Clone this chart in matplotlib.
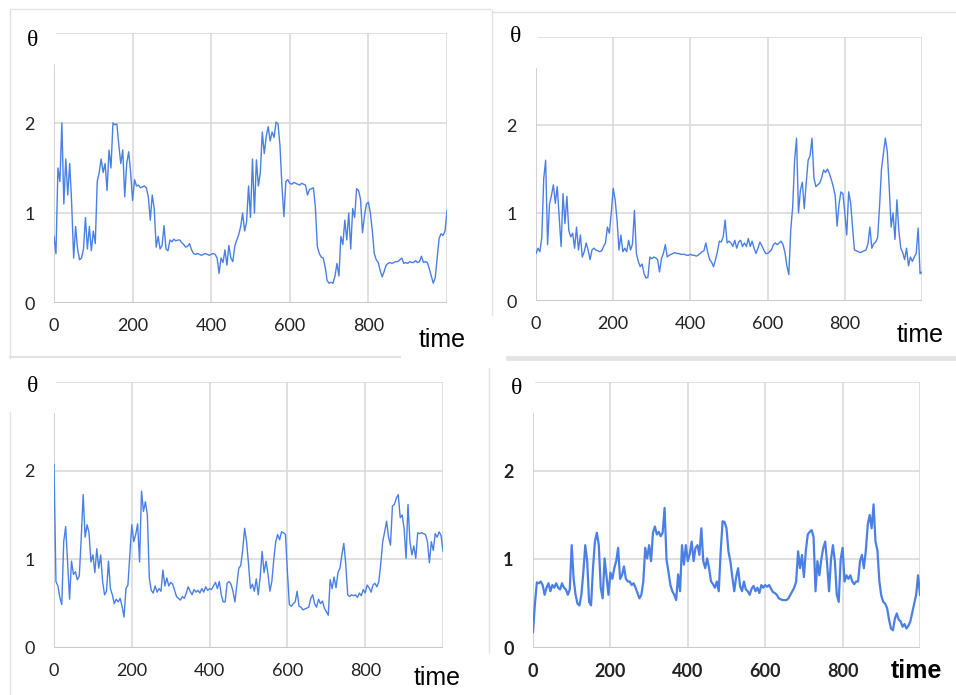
"""Four theta(t) traces laid out as a 2x2 panel figure."""
import numpy as np
import matplotlib
matplotlib.use("Agg")
import matplotlib.pyplot as plt
from matplotlib.lines import Line2D

W, H = 956, 695

# sample times (every 5 steps)
time = np.arange(0, 1001, 5)

theta_a = [
    0.74, 0.55, 1.5, 1.35, 2.0, 1.1, 1.6, 1.2, 1.55, 1.1,
    0.5, 0.85, 0.6, 0.48, 0.5, 0.6, 0.95, 0.6, 0.85, 0.58,
    0.8, 0.66, 1.35, 1.45, 1.6, 1.45, 1.55, 1.25, 1.7, 1.5,
    2.0, 1.98, 1.99, 1.75, 1.55, 1.7, 1.18, 1.55, 1.68, 1.45,
    1.14, 1.37, 1.3, 1.31, 1.28, 1.29, 1.3, 1.28, 1.18, 0.92,
    1.2, 1.05, 0.62, 0.74, 0.6, 0.64, 0.86, 0.6, 0.58, 0.7,
    0.68, 0.71, 0.69, 0.7, 0.7, 0.67, 0.65, 0.62, 0.63, 0.66,
    0.59, 0.55, 0.54, 0.55, 0.54, 0.53, 0.54, 0.55, 0.54, 0.53,
    0.54, 0.55, 0.54, 0.5, 0.33, 0.5, 0.45, 0.59, 0.42, 0.64,
    0.5, 0.46, 0.63, 0.7, 0.76, 0.85, 1.0, 0.8, 0.9, 1.3,
    0.95, 1.6, 1.0, 1.59, 1.3, 1.45, 1.9, 1.66, 1.85, 1.96,
    1.8, 1.9, 1.84, 2.01, 1.99, 1.75, 1.3, 0.96, 1.35, 1.37,
    1.33, 1.32, 1.34, 1.33, 1.32, 1.31, 1.33, 1.32, 1.31, 1.2,
    1.26, 1.27, 1.28, 1.07, 0.63, 0.55, 0.51, 0.5, 0.4, 0.25,
    0.22, 0.23, 0.22, 0.3, 0.44, 0.3, 0.74, 0.65, 0.92, 0.7,
    1.0, 0.6, 1.05, 0.95, 1.27, 1.25, 1.15, 0.78, 0.97, 1.1,
    1.12, 1.0, 0.8, 0.55, 0.48, 0.45, 0.36, 0.29, 0.35, 0.42,
    0.44, 0.45, 0.44, 0.45, 0.46, 0.46, 0.48, 0.5, 0.44, 0.45,
    0.44, 0.46, 0.45, 0.45, 0.47, 0.45, 0.46, 0.52, 0.45, 0.46,
    0.45, 0.38, 0.3, 0.22, 0.28, 0.5, 0.72, 0.77, 0.75, 0.8,
    1.03,
]

theta_b = [
    0.54, 0.6, 0.56, 0.72, 1.39, 1.6, 0.64, 1.1, 1.2, 1.32,
    1.11, 1.3, 0.96, 0.62, 1.22, 0.88, 1.19, 0.8, 0.73, 0.77,
    0.6, 0.84, 0.58, 0.75, 0.5, 0.56, 0.66, 0.58, 0.47, 0.58,
    0.6, 0.58, 0.57, 0.56, 0.57, 0.62, 0.66, 0.84, 0.77, 1.0,
    1.28, 1.15, 0.92, 0.58, 0.75, 0.56, 0.6, 0.56, 0.69, 0.58,
    0.65, 1.03, 0.54, 0.45, 0.39, 0.42, 0.31, 0.26, 0.27, 0.5,
    0.48, 0.5, 0.49, 0.47, 0.33, 0.48, 0.54, 0.64, 0.5, 0.52,
    0.53, 0.54, 0.55, 0.54, 0.54, 0.53, 0.53, 0.53, 0.52, 0.52,
    0.53, 0.52, 0.52, 0.51, 0.52, 0.54, 0.56, 0.57, 0.66, 0.55,
    0.47, 0.44, 0.39, 0.47, 0.56, 0.68, 0.67, 0.73, 0.92, 0.66,
    0.68, 0.66, 0.62, 0.69, 0.6, 0.67, 0.69, 0.62, 0.66, 0.62,
    0.71, 0.62, 0.68, 0.6, 0.54, 0.6, 0.67, 0.63, 0.58, 0.54,
    0.54, 0.56, 0.58, 0.64, 0.66, 0.64, 0.66, 0.68, 0.64, 0.55,
    0.4, 0.3, 0.81, 1.07, 1.6, 1.85, 1.0, 1.26, 1.35, 1.05,
    1.34, 1.6, 1.65, 1.85, 1.4, 1.3, 1.32, 1.34, 1.4, 1.49,
    1.46, 1.5, 1.45, 1.38, 1.3, 1.2, 0.85, 1.1, 1.24, 1.22,
    1.0, 0.75, 1.24, 1.12, 0.84, 0.58, 0.57, 0.56, 0.55, 0.56,
    0.57, 0.58, 0.65, 0.84, 0.6, 0.65, 0.67, 0.72, 1.07, 1.5,
    1.68, 1.85, 1.7, 1.3, 0.84, 1.0, 0.7, 1.15, 0.8, 0.6,
    0.55, 0.47, 0.6, 0.4, 0.5, 0.45, 0.5, 0.54, 0.83, 0.31,
    0.33,
]

theta_c = [
    2.07, 0.75, 0.7, 0.57, 0.49, 1.2, 1.37, 0.95, 0.55, 0.98,
    0.83, 0.86, 0.77, 0.81, 1.24, 1.73, 1.25, 1.39, 1.3, 0.97,
    1.05, 0.85, 1.12, 0.9, 1.05, 0.75, 0.6, 0.64, 0.98, 0.67,
    0.6, 0.5, 0.55, 0.52, 0.56, 0.47, 0.35, 0.67, 0.71, 1.05,
    1.39, 1.2, 1.28, 1.4, 0.97, 1.77, 1.54, 1.65, 1.5, 0.79,
    0.65, 0.62, 0.7, 0.63, 0.67, 0.64, 0.88, 0.7, 0.79, 0.7,
    0.74, 0.72, 0.65, 0.58, 0.56, 0.54, 0.58, 0.56, 0.62, 0.69,
    0.64, 0.6, 0.66, 0.63, 0.65, 0.62, 0.67, 0.63, 0.69, 0.65,
    0.67, 0.66, 0.7, 0.74, 0.67, 0.75, 0.6, 0.52, 0.52, 0.73,
    0.75, 0.72, 0.64, 0.52, 0.71, 0.9, 0.93, 1.1, 1.35, 1.2,
    0.95, 0.67, 0.72, 0.64, 0.78, 0.6, 0.8, 1.09, 0.85, 0.98,
    0.84, 0.64, 0.75, 1.0, 1.2, 1.28, 1.22, 1.31, 1.3, 1.28,
    0.86, 0.49, 0.47, 0.5, 0.52, 0.64, 0.47, 0.46, 0.43, 0.44,
    0.45, 0.46, 0.56, 0.6, 0.5, 0.46, 0.55, 0.5, 0.53, 0.45,
    0.41, 0.37, 0.77, 0.67, 0.8, 0.68, 0.85, 0.9, 1.05, 1.18,
    0.95, 0.6, 0.58, 0.6, 0.59, 0.6, 0.57, 0.62, 0.59, 0.66,
    0.62, 0.71, 0.68, 0.63, 0.71, 0.73, 0.69, 0.75, 0.95, 1.2,
    1.31, 1.43, 1.25, 1.16, 1.6, 1.62, 1.69, 1.73, 1.47, 1.5,
    1.35, 1.01, 1.62, 1.2, 1.05, 1.15, 1.01, 1.3, 1.29, 1.3,
    1.29, 1.28, 1.2, 0.96, 1.2, 1.1, 1.29, 1.25, 1.31, 1.27,
    1.09,
]

theta_d = [
    0.18, 0.5, 0.74, 0.73, 0.75, 0.71, 0.6, 0.68, 0.73, 0.64,
    0.71, 0.68, 0.73, 0.68, 0.66, 0.73, 0.68, 0.66, 0.6, 0.66,
    1.16, 0.78, 0.6, 0.5, 0.48, 0.6, 0.85, 1.16, 0.98, 0.52,
    0.48, 0.9, 1.2, 1.3, 1.16, 0.68, 0.56, 1.01, 0.8, 0.6,
    0.85, 0.78, 0.9, 0.98, 1.13, 0.78, 0.82, 0.92, 0.78, 0.75,
    0.75, 0.71, 0.73, 0.68, 0.62, 0.56, 0.6, 0.75, 1.13, 1.01,
    1.16, 0.98, 1.3, 1.37, 1.28, 1.31, 1.26, 1.3, 1.58, 1.0,
    0.86, 0.71, 0.64, 0.6, 0.54, 0.83, 0.64, 1.16, 0.94, 1.16,
    0.98, 1.06, 1.2, 0.98, 1.13, 1.16, 1.05, 1.35, 0.98, 0.9,
    1.01, 0.9, 0.75, 0.72, 0.68, 0.75, 0.64, 1.09, 1.43, 1.42,
    1.35, 1.09, 0.98, 0.8, 0.64, 0.8, 0.9, 0.7, 0.64, 0.75,
    0.66, 0.64, 0.6, 0.67, 0.7, 0.64, 0.68, 0.62, 0.71, 0.68,
    0.71, 0.69, 0.71, 0.67, 0.63, 0.62, 0.6, 0.56, 0.55, 0.54,
    0.54, 0.54, 0.56, 0.6, 0.64, 0.68, 0.75, 1.09, 0.9, 1.05,
    0.8, 1.1, 1.28, 1.31, 1.33, 1.25, 0.64, 0.98, 0.82, 1.0,
    1.13, 1.2, 0.95, 0.64, 1.0, 1.16, 0.98, 0.6, 0.52, 1.0,
    1.13, 0.75, 0.82, 0.78, 0.82, 0.75, 0.72, 0.75, 0.75, 0.98,
    1.05, 0.9, 1.1, 1.39, 1.5, 1.35, 1.62, 1.2, 1.1, 0.75,
    0.59, 0.52, 0.5, 0.45, 0.32, 0.22, 0.2, 0.33, 0.39, 0.32,
    0.3, 0.24, 0.27, 0.22, 0.25, 0.3, 0.4, 0.5, 0.6, 0.82,
    0.6,
]

x_ticks = [0, 200, 400, 600, 800]
y_ticks = [0, 1, 2]

LINE = "#4a7fe6"
GRID = "#dadada"
AXIS = "#cacaca"

# (series, axes box in pixels [left, top, right, bottom], theta xy, time xy, bold, lw)
panels = [
    (theta_a, (54, 33, 447, 303), (33, 40), (442, 340), False, 1.0),
    (theta_b, (536, 37, 922, 301), (516, 37), (920, 335), False, 1.0),
    (theta_c, (54, 382, 443, 648), (33, 387), (437, 678), False, 1.0),
    (theta_d, (533, 382, 920, 648), (517, 388), (916, 671), True, 1.6),
]


def fx(px):
    return px / W


def fy(py):
    return 1 - py / H


fig = plt.figure(figsize=(W / 100, H / 100), dpi=100)

for series, (l, t, r, b), th_xy, time_xy, bold, lw in panels:
    ax = fig.add_axes([fx(l), fy(b), (r - l) / W, (b - t) / H])
    ax.set_xlim(0, 1000)
    ax.set_ylim(0, 3)
    for s in ax.spines.values():
        s.set_visible(False)

    # hand-drawn grid: no full-height line at x=0, short left axis instead
    for xv in [200, 400, 600, 800, 1000]:
        ax.axvline(xv, color=GRID, lw=1.2, zorder=0)
    for yv in [1, 2]:
        ax.axhline(yv, color=GRID, lw=1.2, zorder=0)
    ax.axhline(3, xmin=0.008, color=GRID, lw=1.2, zorder=0)
    ax.axhline(0, color=AXIS, lw=1.5, zorder=0)
    ax.axvline(0, ymax=0.88, color=AXIS, lw=1.2, zorder=0)

    ax.plot(time, series, color=LINE, lw=lw, zorder=3)

    weight = "bold" if bold else "normal"
    ax.set_xticks(x_ticks)
    ax.set_yticks(y_ticks)
    ax.set_xticklabels([str(v) for v in x_ticks], fontfamily="Lato",
                       fontsize=13, fontweight=weight, color="#222222")
    ax.set_yticklabels([str(v) for v in y_ticks], fontfamily="Lato",
                       fontsize=13, fontweight=weight, color="#222222")
    ax.tick_params(axis="x", length=0, pad=11)
    ax.tick_params(axis="y", length=0, pad=14)

    fig.text(fx(th_xy[0]), fy(th_xy[1]), "θ", fontfamily="Liberation Serif",
             fontsize=17, ha="center", va="center")
    fig.text(fx(time_xy[0]), fy(time_xy[1]), "time", fontfamily="Liberation Sans",
             fontsize=18, fontweight=weight, ha="center", va="center")

# light frame lines between the four panels
frame = [
    ((10, 490), (9, 9), 1.0),
    ((10, 10), (9, 358), 1.0),
    ((10, 400), (357, 357), 1.5),
    ((493, 956), (12, 12), 1.0),
    ((492, 492), (10, 315), 1.0),
    ((507, 956), (357, 357), 2.0),
    ((10, 10), (412, 695), 1.0),
    ((507, 956), (359, 359), 2.0),
    ((489, 489), (368, 652), 1.0),
]
for xs, ys, w in frame:
    fig.add_artist(Line2D([fx(xs[0]), fx(xs[1])], [fy(ys[0]), fy(ys[1])],
                          color="#e2e2e2", lw=w, transform=fig.transFigure))

fig.savefig("out.png", dpi=100)
